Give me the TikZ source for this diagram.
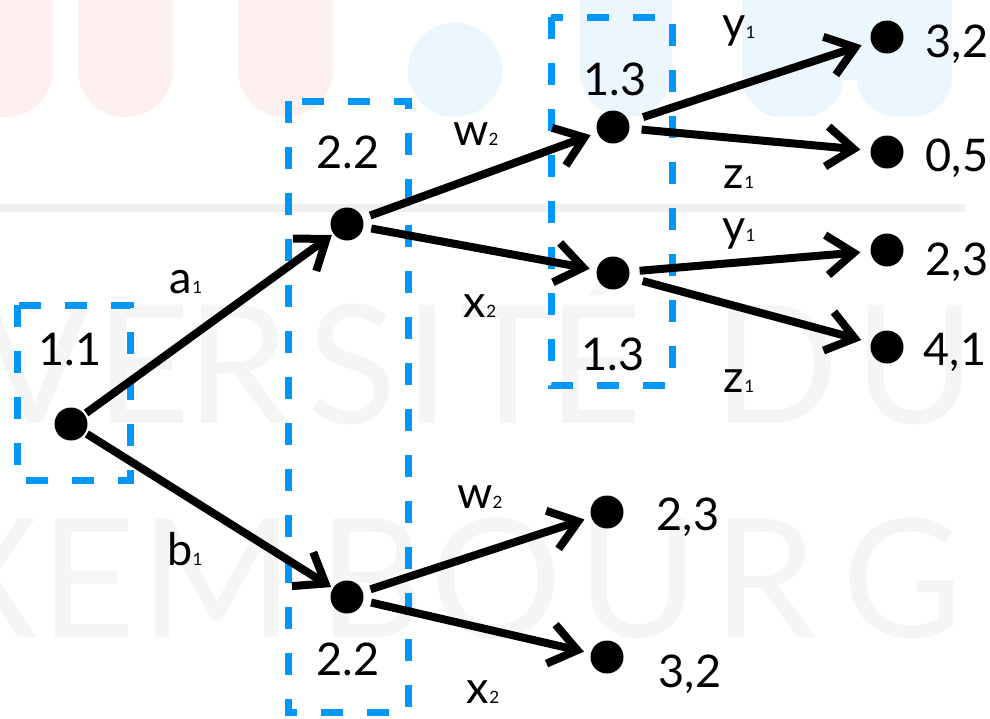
\documentclass[tikz,border=0pt]{standalone}
\usepackage{fontspec}
\setmainfont{Lato}
\usetikzlibrary{arrows.meta}
\definecolor{infoblue}{RGB}{0,150,250}
\definecolor{wmgray}{RGB}{245,245,245}
\definecolor{wmline}{RGB}{240,240,240}
\definecolor{wmpink}{RGB}{253,240,238}
\definecolor{wmblue}{RGB}{235,247,252}
% small player index set on the baseline
\newcommand\pidx[1]{{\fontsize{17}{17}\selectfont #1}}
\begin{document}
\begin{tikzpicture}[x=1pt,y=-1pt,
  dot/.style={circle,fill=black,inner sep=0pt,minimum size=33pt},
  lbl/.style={inner sep=0pt,anchor=base,font=\fontsize{45}{50}\selectfont},
  move/.style={line width=8pt,-{Straight Barb[length=27pt,width=40pt,sharp]}},
  infoset/.style={draw=infoblue,line width=7pt,dash pattern=on 22pt off 24pt},
  wm/.style={text=wmgray,inner sep=0pt,anchor=base,font=\fontsize{165}{170}\selectfont}]
\useasboundingbox (0,0) rectangle (990,718);
\fill[white] (0,0) rectangle (990,718);

% faint logo band in the background
\fill[wmpink,rounded corners=47pt] (-42,-80) rectangle (53,117);
\fill[wmpink,rounded corners=47pt] (78,-80) rectangle (173,117);
\fill[wmpink,rounded corners=47pt] (238,-80) rectangle (333,117);
\fill[wmblue] (455,70) circle[radius=47];
\fill[wmblue,rounded corners=46pt] (580,-80) rectangle (672,117);
\fill[wmblue] (742,-10) rectangle (952,80);
\fill[wmblue,rounded corners=40pt] (742,-80) rectangle (843,117);
\fill[wmblue,rounded corners=40pt] (857,-80) rectangle (952,117);
\fill[wmline] (0,204) rectangle (965,212);

% faint background lettering
\foreach \ch/\px [count=\i] in {V/35,E/143,R/238,S/352,I/428,T/508,É/595,D/776,U/915}
  \node[wm] (wa\i) at (\px,423) {\ch};
\foreach \ch/\px [count=\i] in {X/-15,E/88,M/217,B/372,O/497,U/638,R/765,G/903}
  \node[wm] (wb\i) at (\px,637) {\ch};

% information sets
\draw[infoset] (17,305) rectangle (130,480);
\draw[infoset] (288,101) rectangle (408,712);
\draw[infoset] (551,17) rectangle (672,385);

% decision and terminal nodes
\node[dot] (r) at (71,424) {};
\node[dot] (p2u) at (347,224) {};
\node[dot] (p2l) at (347,597) {};
\node[dot] (p3u) at (613,127) {};
\node[dot] (p3l) at (613,273) {};
\node[dot] (t1) at (887,37) {};
\node[dot] (t2) at (887,152) {};
\node[dot] (t3) at (887,250) {};
\node[dot] (t4) at (887,347) {};
\node[dot] (t5) at (607,512) {};
\node[dot] (t6) at (607,657) {};

% moves
\draw[move,shorten <=2pt,shorten >=2pt] (r) -- (p2u);
\draw[move,shorten <=2pt,shorten >=2pt] (r) -- (p2l);
\draw[move,shorten <=8pt,shorten >=7pt] (p2u) -- (p3u);
\draw[move,shorten <=8pt,shorten >=7pt] (p2u) -- (p3l);
\draw[move,shorten <=8pt,shorten >=7pt] (p2l) -- (t5);
\draw[move,shorten <=8pt,shorten >=7pt] (p2l) -- (t6);
\draw[move,shorten <=15pt,shorten >=10pt] (p3u) -- (t1);
\draw[move,shorten <=12pt,shorten >=10pt] (p3u) -- (t2);
\draw[move,shorten <=10pt,shorten >=10pt] (p3l) -- (t3);
\draw[move,shorten <=14pt,shorten >=10pt] (p3l) -- (t4);

% player labels
\node[lbl] (l11) at (70,365) {1.1};
\node[lbl] (l22u) at (348,168) {2.2};
\node[lbl] (l22l) at (348,675) {2.2};
\node[lbl] (l13u) at (615,95) {1.3};
\node[lbl] (l13l) at (613,370) {1.3};

% move labels
\node[lbl] (ma) at (186,293) {a\pidx{1}};
\node[lbl] (mb) at (185,565) {b\pidx{1}};
\node[lbl] (mwu) at (476,145) {w\pidx{2}};
\node[lbl] (mxu) at (480,317) {x\pidx{2}};
\node[lbl] (mwl) at (480,508) {w\pidx{2}};
\node[lbl] (mxl) at (483,703) {x\pidx{2}};
\node[lbl] (myu) at (739,38) {y\pidx{1}};
\node[lbl] (mzu) at (739,188) {z\pidx{1}};
\node[lbl] (myl) at (739,241) {y\pidx{1}};
\node[lbl] (mzl) at (739,392) {z\pidx{1}};

% payoffs
\node[lbl] (o1) at (957,57) {3,2};
\node[lbl] (o2) at (957,171) {0,5};
\node[lbl] (o3) at (957,275) {2,3};
\node[lbl] (o4) at (955,365) {4,1};
\node[lbl] (o5) at (688,530) {2,3};
\node[lbl] (o6) at (690,687) {3,2};
\end{tikzpicture}
\end{document}
